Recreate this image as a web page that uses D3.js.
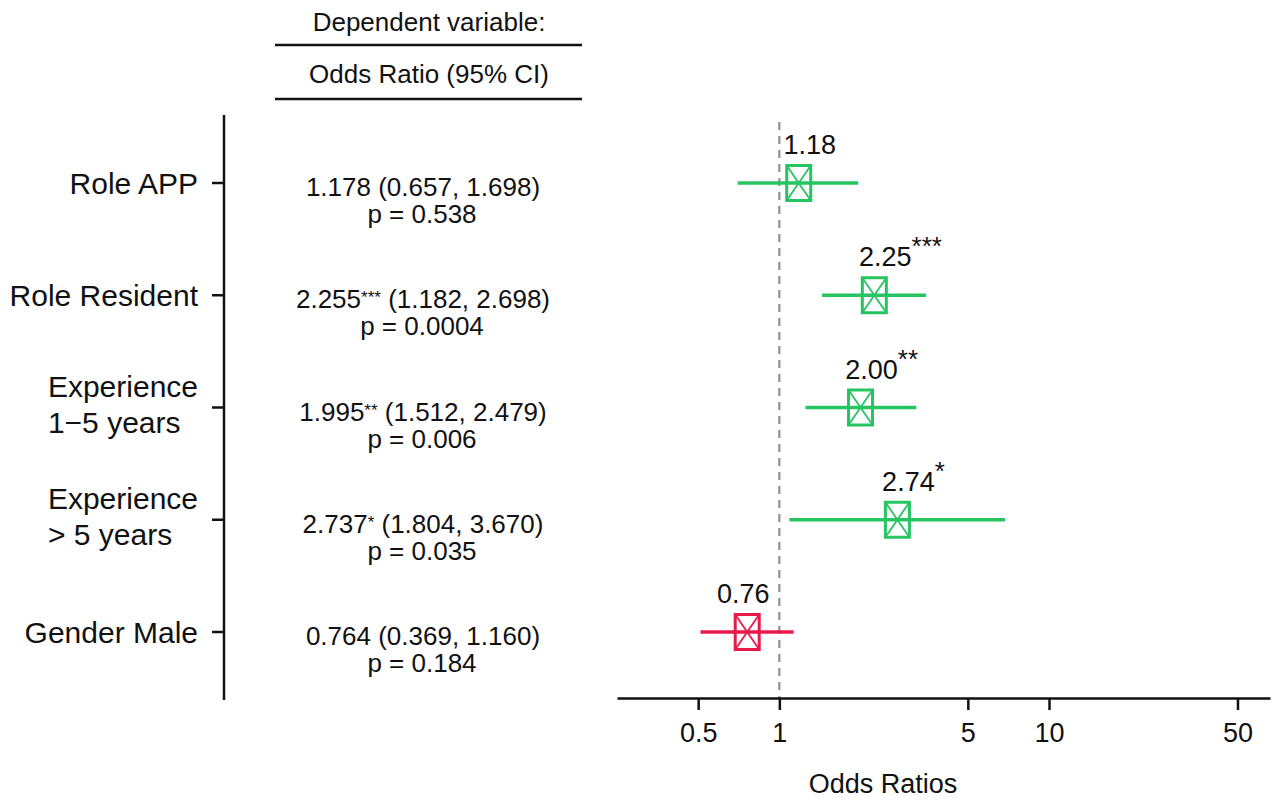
<!DOCTYPE html>
<html>
<head>
<meta charset="utf-8">
<script src="https://cdn.jsdelivr.net/npm/d3@7"></script>
<style>
  body { margin: 0; background: #fff; }
  svg text { font-family: "Liberation Sans", Arial, sans-serif; fill: #111; }
</style>
</head>
<body>
<svg width="1280" height="801"></svg>
<script>
// row labels (multi-line rows split on |)
const terms = ['Role APP', 'Role Resident', 'Experience|1\u22125 years', 'Experience|> 5 years', 'Gender Male']
// plotted estimates and interval ends, as drawn
const estimates = [1.18, 2.25, 2.00, 2.74, 0.76]
const ciLow = [0.70, 1.44, 1.25, 1.09, 0.51]
const ciHigh = [1.96, 3.50, 3.22, 6.87, 1.13]
const stars = ['', '***', '**', '*', '']
// table column text
const tableOR = ['1.178', '2.255', '1.995', '2.737', '0.764']
const tableCI = ['(0.657, 1.698)', '(1.182, 2.698)', '(1.512, 2.479)', '(1.804, 3.670)', '(0.369, 1.160)']
const tableP = ['0.538', '0.0004', '0.006', '0.035', '0.184']
const xTicks = [0.5, 1, 5, 10, 50]

const svg = d3.select('svg')
const green = '#27c462'
const red = '#e8194b'

const x = d3.scaleLog().domain([0.25, 66]).range([617, 1270])
const y = d3.scalePoint().domain(d3.range(terms.length)).range([183, 632])

// header of the table column
const hx = 429
svg.append('text').attr('x', hx).attr('y', 31).attr('text-anchor', 'middle')
  .style('font-size', '26px').text('Dependent variable:')
svg.append('line').attr('x1', 275).attr('x2', 582).attr('y1', 45).attr('y2', 45)
  .attr('stroke', '#111').attr('stroke-width', 2.4)
svg.append('text').attr('x', hx).attr('y', 83).attr('text-anchor', 'middle')
  .style('font-size', '26px').text('Odds Ratio (95% CI)')
svg.append('line').attr('x1', 275).attr('x2', 582).attr('y1', 99).attr('y2', 99)
  .attr('stroke', '#111').attr('stroke-width', 2.4)

// left axis with term labels
svg.append('line').attr('x1', 224).attr('x2', 224).attr('y1', 115).attr('y2', 700)
  .attr('stroke', '#111').attr('stroke-width', 2.5)

const rows = svg.selectAll('.row').data(terms).enter().append('g')
  .attr('class', 'row')
  .attr('transform', (d, i) => `translate(0,${y(i)})`)

rows.append('line').attr('x1', 212).attr('x2', 224).attr('stroke', '#111').attr('stroke-width', 2.5)

rows.each(function (d) {
  const g = d3.select(this)
  const parts = d.split('|')
  if (parts.length === 1) {
    g.append('text').attr('x', 198).attr('y', 11).attr('text-anchor', 'end')
      .style('font-size', '30px').text(d)
  } else {
    const t1 = g.append('text').attr('y', -11).style('font-size', '30px').text(parts[0])
    const w = t1.node().getComputedTextLength()
    t1.attr('x', 198 - w)
    g.append('text').attr('x', 198 - w).attr('y', 25).style('font-size', '30px').text(parts[1])
  }
})

// table text
rows.each(function (d, i) {
  const g = d3.select(this)
  const t = g.append('text').attr('x', 423).attr('y', 13).attr('text-anchor', 'middle')
    .style('font-size', '26px')
  t.append('tspan').text(tableOR[i])
  if (stars[i]) t.append('tspan').attr('dy', -5).style('font-size', '17px').text(stars[i])
  t.append('tspan').attr('dy', stars[i] ? 5 : 0).text(' ' + tableCI[i])
  g.append('text').attr('x', 422).attr('y', 40).attr('text-anchor', 'middle')
    .style('font-size', '26px').text('p = ' + tableP[i])
})

// reference line at 1
svg.append('line').attr('x1', x(1)).attr('x2', x(1)).attr('y1', 122).attr('y2', 698)
  .attr('stroke', '#999').attr('stroke-width', 2.4).attr('stroke-dasharray', '8,6')

// bottom axis
const axisY = 698
const xAxis = svg.append('g').attr('transform', `translate(0,${axisY})`)
  .call(d3.axisBottom(x).tickValues(xTicks).tickFormat(d => String(d)).tickSize(12).tickSizeOuter(0))
xAxis.select('.domain').attr('stroke', '#111').attr('stroke-width', 2.5)
xAxis.selectAll('.tick line').attr('stroke', '#111').attr('stroke-width', 2.5)
xAxis.selectAll('.tick text').attr('y', 25).style('font-size', '27px')
  .style('font-family', '"Liberation Sans", Arial, sans-serif').attr('fill', '#111')

svg.append('text').attr('x', 883).attr('y', 793).attr('text-anchor', 'middle')
  .style('font-size', '27px').text('Odds Ratios')

// estimates
const bw = 24, bh = 35
const pts = svg.selectAll('.pt').data(estimates).enter().append('g')
  .attr('class', 'pt')
  .attr('transform', (d, i) => `translate(0,${y(i)})`)

pts.append('line')
  .attr('x1', (d, i) => x(ciLow[i])).attr('x2', (d, i) => x(ciHigh[i]))
  .attr('stroke', d => d < 1 ? red : green).attr('stroke-width', 3.5)

pts.each(function (d, i) {
  const g = d3.select(this)
  const c = d < 1 ? red : green
  const cx = x(d)
  g.append('rect').attr('x', cx - bw / 2).attr('y', -bh / 2).attr('width', bw).attr('height', bh)
    .attr('fill', '#fff').attr('stroke', c).attr('stroke-width', 3)
  g.append('path')
    .attr('d', `M${cx - bw / 2},${-bh / 2}L${cx + bw / 2},${bh / 2}M${cx + bw / 2},${-bh / 2}L${cx - bw / 2},${bh / 2}`)
    .attr('stroke', c).attr('stroke-width', 1.8).attr('fill', 'none')
  g.append('line').attr('x1', cx - bw / 2).attr('x2', cx + bw / 2).attr('stroke', c).attr('stroke-width', 3.5)
  // number sits a little right of the box for OR > 1, a little left for OR < 1
  const lx = cx + (d >= 1 ? 11 : -4)
  const t = g.append('text').attr('x', lx).attr('y', -29).attr('text-anchor', 'middle')
    .style('font-size', '27px')
  t.append('tspan').text(d3.format('.2f')(d))
  if (stars[i]) {
    t.append('tspan').attr('dy', -11).style('font-size', '26px').text(stars[i])
    const w = t.node().getComputedTextLength()
    const starW = t.select('tspan:last-child').node().getComputedTextLength()
    t.attr('text-anchor', 'start').attr('x', lx - (w - starW) / 2)
  }
})
</script>
</body>
</html>
